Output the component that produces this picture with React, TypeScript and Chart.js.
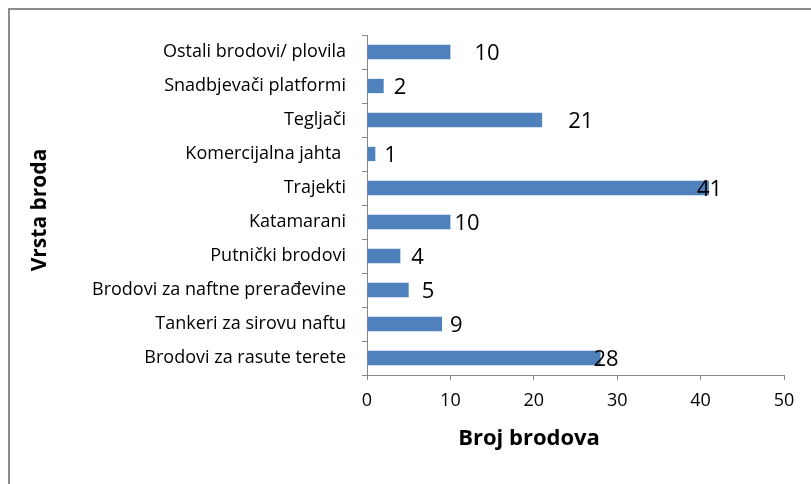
import React, { useEffect, useRef } from "react";
import { Chart, registerables } from "chart.js";

Chart.register(...registerables);

const categories = [
  "Ostali brodovi/ plovila",
  "Snadbjevači platformi",
  "Tegljači",
  "Komercijalna jahta ",
  "Trajekti",
  "Katamarani",
  "Putnički brodovi",
  "Brodovi za naftne prerađevine",
  "Tankeri za sirovu naftu",
  "Brodovi za rasute terete",
];
const shipCounts = [10, 2, 21, 1, 41, 10, 4, 5, 9, 28];
const xTicks = [0, 10, 20, 30, 40, 50];
const yTitle = "Vrsta broda";
const xTitle = "Broj brodova";

const FONT = "'Open Sans'";
const AXIS_COLOR = "#888888";

const framePlugin = {
  id: "frame",
  beforeDraw(chart: any) {
    const ctx = chart.ctx;
    ctx.save();
    ctx.fillStyle = "#ffffff";
    ctx.fillRect(0, 0, chart.width, chart.height);
    ctx.strokeStyle = "#8c8c8c";
    ctx.lineWidth = 2;
    ctx.beginPath();
    ctx.moveTo(9, chart.height);
    ctx.lineTo(9, 9);
    ctx.lineTo(chart.width, 9);
    ctx.stroke();
    ctx.restore();
  },
};

const labelsPlugin = {
  id: "valueLabels",
  afterDatasetsDraw(chart: any, _args: any, opts: any) {
    const ctx = chart.ctx;
    const meta = chart.getDatasetMeta(0);
    const ds = chart.data.datasets[0];
    ctx.save();
    ctx.font = `${opts.size}px ${FONT}`;
    ctx.fillStyle = "#000000";
    ctx.textAlign = "left";
    ctx.textBaseline = "middle";
    meta.data.forEach((bar: any, i: number) => {
      const off = (opts.offsets && opts.offsets[i]) || 0;
      ctx.fillText(String(ds.data[i]), bar.x + off, bar.y + 2);
    });
    ctx.restore();
  },
};

const titlesPlugin = {
  id: "axisTitles",
  afterDraw(chart: any) {
    const ctx = chart.ctx;
    ctx.save();
    ctx.fillStyle = "#000000";
    ctx.textAlign = "center";
    ctx.textBaseline = "middle";
    ctx.font = `bold 22px ${FONT}`;
    ctx.fillText(xTitle, 529, 439);
    ctx.font = `bold 21px ${FONT}`;
    ctx.translate(40, 210);
    ctx.rotate(-Math.PI / 2);
    ctx.fillText(yTitle, 0, 0);
    ctx.restore();
  },
};

export default function App() {
  const ref = useRef<HTMLCanvasElement>(null);
  useEffect(() => {
    if (!ref.current) return;
    const chart = new Chart(ref.current, {
      type: "bar",
      data: {
        labels: categories,
        datasets: [
          {
            data: shipCounts,
            backgroundColor: "#4F81BD",
            borderWidth: 0,
            barPercentage: 0.42,
            categoryPercentage: 1,
          },
        ],
      },
      options: {
        indexAxis: "y",
        animation: false,
        responsive: false,
        layout: { padding: { top: 35, right: 27, left: 0, bottom: 0 } },
        plugins: {
          legend: { display: false },
          tooltip: { enabled: false },
          valueLabels: { size: 22, offsets: [24, 10, 26, 9, -12, 4, 11, 13, 8, -7] },
        } as any,
        scales: {
          x: {
            min: 0,
            max: 50,
            afterFit: (s: any) => {
              s.height = 109;
            },
            afterBuildTicks: (s: any) => {
              s.ticks = xTicks.map((v) => ({ value: v }));
            },
            grid: { drawOnChartArea: false, drawTicks: true, tickLength: 5, color: AXIS_COLOR },
            border: { color: AXIS_COLOR, width: 1 },
            ticks: { color: "#000", font: { family: FONT, size: 18 }, padding: 10, maxRotation: 0 },
          },
          y: {
            afterFit: (s: any) => {
              s.width = 367;
            },
            grid: { drawOnChartArea: false, drawTicks: true, tickLength: 5, offset: true, color: AXIS_COLOR },
            border: { color: AXIS_COLOR, width: 1 },
            ticks: { color: "#000", font: { family: FONT, size: 18 }, padding: 16, autoSkip: false },
          },
        },
      },
      plugins: [framePlugin, labelsPlugin, titlesPlugin],
    });
    return () => chart.destroy();
  }, []);
  return (
    <div style={{ position: "fixed", left: 0, top: 0, width: 811, height: 484 }}>
      <canvas ref={ref} width={811} height={484} style={{ width: 811, height: 484, display: "block" }} />
    </div>
  );
}
